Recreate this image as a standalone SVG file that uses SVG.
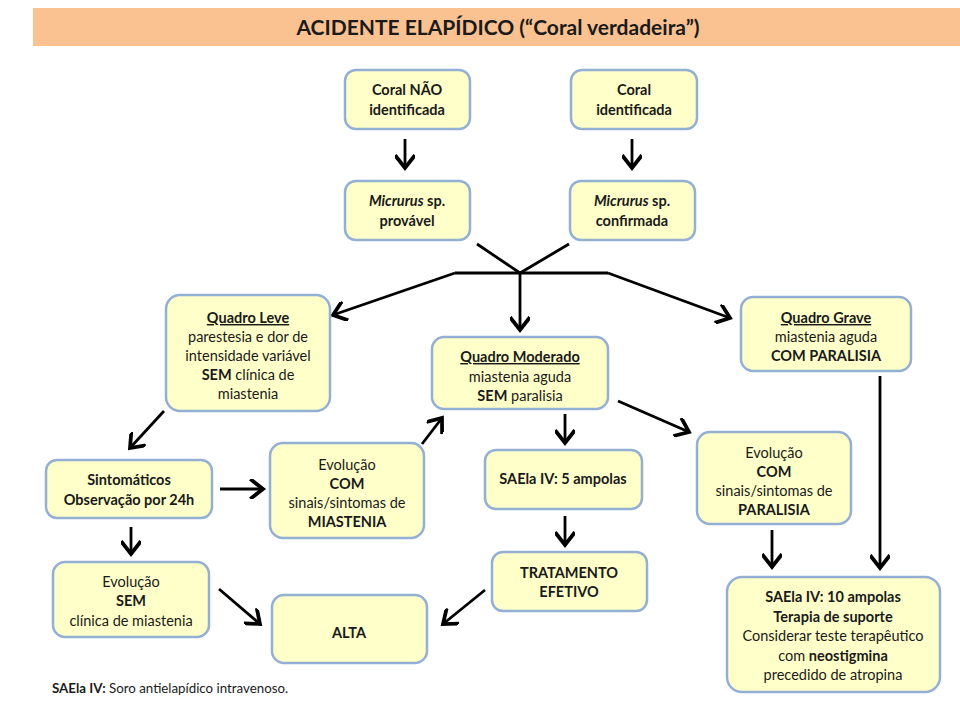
<svg xmlns="http://www.w3.org/2000/svg" width="960" height="720" viewBox="0 0 960 720">
<defs>
<marker id="ah" markerUnits="userSpaceOnUse" markerWidth="20" markerHeight="20" refX="11" refY="8" orient="auto" viewBox="0 0 16 16">
<path d="M2,1 L11,8 L2,15" fill="none" stroke="#000" stroke-width="3" stroke-linecap="square"/>
</marker>
<style>
.box{fill:#FFFFC9;stroke:#93AFD4;stroke-width:2.5}
text{font-family:Lato,"Open Sans","Liberation Sans",sans-serif;font-size:14.5px;fill:#1a1a1a;text-anchor:middle}
.b{font-weight:bold}
.i{font-style:italic}
.u{text-decoration:underline}
.ln{fill:none;stroke:#000;stroke-width:2.8}
.ar{fill:none;stroke:#000;stroke-width:2.8;marker-end:url(#ah)}
</style>
</defs>
<rect x="0" y="0" width="960" height="720" fill="#fff"/>
<g id="title">
<rect x="33" y="8" width="927" height="38" fill="#FAC191"/>
<text x="498" y="35" class="b" style="font-size:21px">ACIDENTE ELAPÍDICO (“Coral verdadeira”)</text>
</g>
<g id="connectors">
<line class="ar" x1="405" y1="139" x2="405" y2="168"/>
<line class="ar" x1="632" y1="139" x2="632" y2="168"/>
<polyline class="ln" points="477,244 520,273 569,244"/>
<line class="ln" x1="455" y1="273" x2="608" y2="273"/>
<line class="ar" x1="455" y1="273" x2="333" y2="315"/>
<line class="ar" x1="608" y1="273" x2="730" y2="318"/>
<line class="ar" x1="520" y1="273" x2="520" y2="330"/>
<line class="ar" x1="164" y1="411" x2="130" y2="448"/>
<line class="ar" x1="220" y1="489" x2="263" y2="489"/>
<line class="ar" x1="131" y1="527" x2="131" y2="554"/>
<line class="ar" x1="422" y1="444" x2="442" y2="418"/>
<line class="ar" x1="565" y1="414" x2="565" y2="443"/>
<line class="ar" x1="618" y1="401" x2="689" y2="432"/>
<line class="ar" x1="565" y1="516" x2="565" y2="545"/>
<line class="ar" x1="219" y1="589" x2="260" y2="624"/>
<line class="ar" x1="485" y1="590" x2="443" y2="624"/>
<line class="ar" x1="772" y1="530" x2="772" y2="567"/>
<line class="ar" x1="880" y1="376" x2="880" y2="568"/>
</g>
<g id="n1"><rect class="box" x="345" y="70" width="125" height="59" rx="11"/>
<text x="407" y="95" class="b">Coral NÃO</text><text x="407" y="115" class="b">identificada</text></g>
<g id="n2"><rect class="box" x="571" y="70" width="126" height="59" rx="11"/>
<text x="634" y="95" class="b">Coral</text><text x="634" y="115" class="b">identificada</text></g>
<g id="n3"><rect class="box" x="345" y="181" width="125" height="59" rx="11"/>
<text x="407" y="206" class="b"><tspan class="i">Micrurus</tspan> sp.</text><text x="407" y="226" class="b">provável</text></g>
<g id="n4"><rect class="box" x="570" y="181" width="125" height="59" rx="11"/>
<text x="632" y="206" class="b"><tspan class="i">Micrurus</tspan> sp.</text><text x="632" y="226" class="b">confirmada</text></g>
<g id="n5"><rect class="box" x="166" y="295" width="164" height="116" rx="14"/>
<text x="248" y="323" class="b u">Quadro Leve</text>
<text x="248" y="342">parestesia e dor de</text>
<text x="248" y="361">intensidade variável</text>
<text x="248" y="380"><tspan class="b">SEM</tspan> clínica de</text>
<text x="248" y="399">miastenia</text></g>
<g id="n6"><rect class="box" x="432" y="337" width="176" height="72" rx="12"/>
<text x="520" y="362" class="b u">Quadro Moderado</text>
<text x="520" y="382">miastenia aguda</text>
<text x="520" y="401"><tspan class="b">SEM</tspan> paralisia</text></g>
<g id="n7"><rect class="box" x="741" y="297" width="170" height="74" rx="12"/>
<text x="826" y="323" class="b u">Quadro Grave</text>
<text x="826" y="342">miastenia aguda</text>
<text x="826" y="361" class="b">COM PARALISIA</text></g>
<g id="n8"><rect class="box" x="46" y="460" width="166" height="58" rx="11"/>
<text x="129" y="485" class="b">Sintomáticos</text>
<text x="129" y="505" class="b">Observação por 24h</text></g>
<g id="n9"><rect class="box" x="270" y="443" width="154" height="95" rx="13"/>
<text x="347" y="470">Evolução</text>
<text x="347" y="489" class="b">COM</text>
<text x="347" y="508">sinais/sintomas de</text>
<text x="347" y="527" class="b">MIASTENIA</text></g>
<g id="n10"><rect class="box" x="485" y="450" width="157" height="59" rx="11"/>
<text x="563" y="484" class="b">SAEla IV: 5 ampolas</text></g>
<g id="n11"><rect class="box" x="697" y="432" width="154" height="92" rx="13"/>
<text x="774" y="458">Evolução</text>
<text x="774" y="477" class="b">COM</text>
<text x="774" y="496">sinais/sintomas de</text>
<text x="774" y="515" class="b">PARALISIA</text></g>
<g id="n12"><rect class="box" x="53" y="562" width="156" height="75" rx="12"/>
<text x="131" y="587">Evolução</text>
<text x="131" y="606" class="b">SEM</text>
<text x="131" y="626">clínica de miastenia</text></g>
<g id="n13"><rect class="box" x="272" y="595" width="155" height="68" rx="12"/>
<text x="349" y="638" class="b">ALTA</text></g>
<g id="n14"><rect class="box" x="492" y="552" width="155" height="59" rx="11"/>
<text x="569" y="578" class="b">TRATAMENTO</text>
<text x="569" y="597" class="b">EFETIVO</text></g>
<g id="n15"><rect class="box" x="727" y="577" width="213" height="115" rx="15"/>
<text x="833" y="602" class="b">SAEla IV: 10 ampolas</text>
<text x="833" y="622" class="b">Terapia de suporte</text>
<text x="833" y="641">Considerar teste terapêutico</text>
<text x="833" y="661">com <tspan class="b">neostigmina</tspan></text>
<text x="833" y="680">precedido de atropina</text></g>
<g id="footnote"><text x="52" y="693" style="text-anchor:start;font-size:13.3px"><tspan class="b">SAEla IV:</tspan> Soro antielapídico intravenoso.</text></g>
</svg>
